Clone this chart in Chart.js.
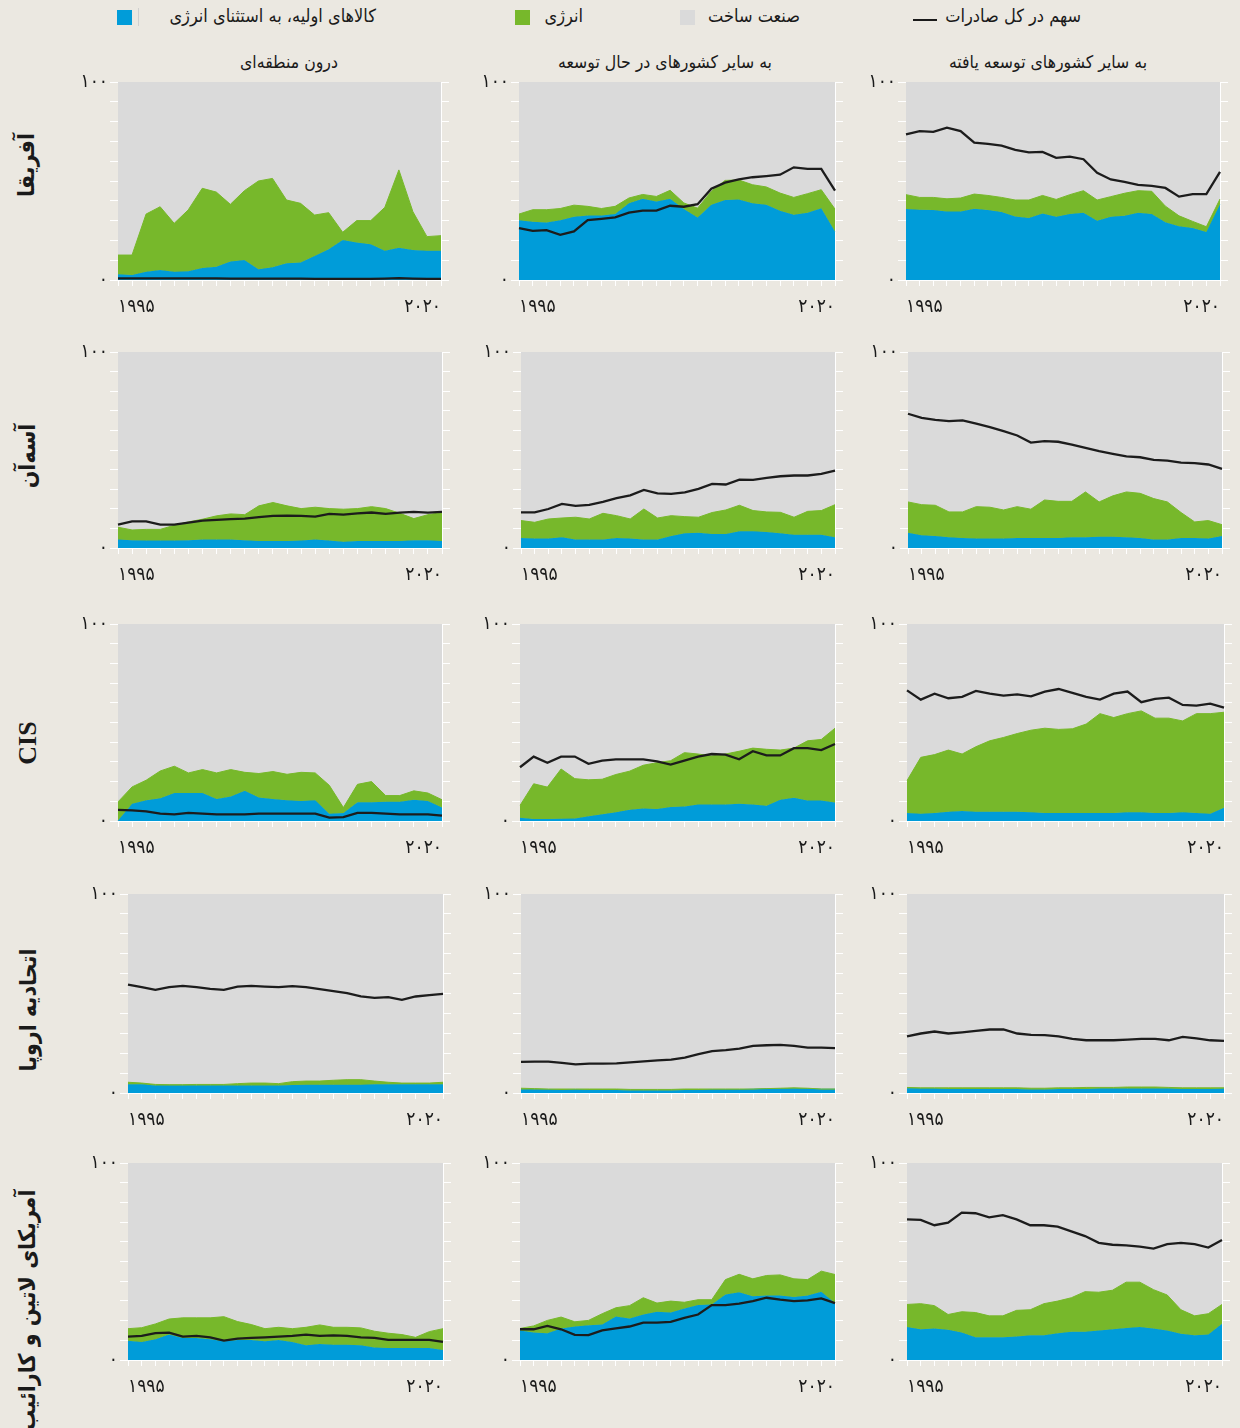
<!DOCTYPE html>
<html lang="fa">
<head>
<meta charset="utf-8">
<title>سهم کالاها در صادرات</title>
<script src="https://cdn.jsdelivr.net/npm/chart.js@4.4.1/dist/chart.umd.min.js"></script>
<style>
  html, body { margin: 0; padding: 0; }
  body {
    width: 1240px; height: 1428px; position: relative; overflow: hidden;
    background: #EBE8E1; color: #1a1a1a;
    font-family: 'DejaVu Sans Condensed', 'DejaVu Sans', sans-serif;
  }
  .legend-text { position: absolute; top: 5px; font-size: 18px; line-height: 22px; direction: rtl; white-space: nowrap; }
  .swatch { position: absolute; top: 10px; width: 15px; height: 15px; }
  .col-title { position: absolute; top: 50px; font-size: 17.5px; line-height: 24px; direction: rtl; white-space: nowrap; transform: translateX(-50%); }
  .row-label { position: absolute; font-weight: bold; font-size: 23px; line-height: 28px; white-space: nowrap; direction: rtl; transform: translate(-50%, -50%) rotate(-90deg); }
  .row-label.latin { font-family: 'Liberation Serif', serif; font-size: 26px; direction: ltr; }
  canvas.panel { position: absolute; }
</style>
</head>
<body>

<div class="swatch" style="left:117px; background:#009CD9;"></div>
<div style="position:absolute; left:138px; top:8px; width:1px; height:18px; background:#cfcfcf;"></div>
<div class="legend-text" style="right:864px;">کالاهای اولیه، به استثنای انرژی</div>
<div class="swatch" style="left:515px; background:#77B82B;"></div>
<div class="legend-text" style="right:657px;">انرژی</div>
<div class="swatch" style="left:680px; background:#DADADA;"></div>
<div class="legend-text" style="right:440px;">صنعت ساخت</div>
<div style="position:absolute; left:913px; top:19px; width:24px; height:2px; background:#1a1a1a;"></div>
<div class="legend-text" style="right:159px;">سهم در کل صادرات</div>

<div class="col-title" style="left:289px;">درون منطقه‌ای</div>
<div class="col-title" style="left:665px;">به سایر کشورهای در حال توسعه</div>
<div class="col-title" style="left:1048px;">به سایر کشورهای توسعه یافته</div>

<div class="row-label" style="left:26px; top:165px;">آفریقا</div>
<div class="row-label" style="left:27px; top:456px;">آسه‌آن</div>
<div class="row-label latin" style="left:28px; top:743px;">CIS</div>
<div class="row-label" style="left:28px; top:1010px;">اتحادیه اروپا</div>
<div class="row-label" style="left:27px; top:1310px;">آمریکای لاتین و کارائیب</div>

<script>
// x tick labels (24 points per panel, only the ends are labelled)
const xTicks = ['۱۹۹۵', '', '', '', '', '', '', '', '', '', '', '', '', '', '', '', '', '', '', '', '', '', '', '۲۰۲۰'];
const yTicks = { 0: '۰', 100: '۱۰۰' };

// Africa
const afrIntraPrimary = [2.9, 2.5, 4.2, 5.1, 4.2, 4.4, 6.1, 6.7, 9.3, 10.1, 5.4, 6.4, 8.4, 8.8, 12.1, 15.5, 20.2, 18.9, 18.0, 14.8, 16.3, 15.2, 14.8, 14.8];
const afrIntraEnergyTop = [12.6, 12.6, 33.3, 37.0, 28.6, 35.4, 46.3, 44.4, 38.2, 45.1, 50.0, 51.3, 40.4, 38.7, 32.8, 34.0, 24.1, 30.0, 30.0, 36.7, 55.6, 34.5, 21.9, 22.4];
const afrIntraShare = [0.8, 0.8, 0.8, 0.8, 0.8, 0.8, 0.8, 0.8, 0.7, 0.7, 0.7, 0.7, 0.7, 0.7, 0.6, 0.6, 0.6, 0.6, 0.6, 0.7, 0.9, 0.7, 0.6, 0.6];

const afrDevPrimary = [30.2, 29.4, 29.1, 30.2, 31.9, 32.6, 32.6, 33.3, 38.7, 41.0, 39.7, 41.0, 35.8, 31.6, 38.0, 40.4, 40.7, 38.7, 38.0, 35.0, 32.9, 34.0, 36.3, 24.5];
const afrDevEnergyTop = [33.3, 35.5, 35.5, 36.1, 37.8, 37.2, 36.1, 37.2, 41.4, 43.2, 42.2, 45.3, 38.9, 36.3, 44.8, 50.3, 50.5, 48.1, 47.0, 43.9, 41.7, 43.6, 45.6, 35.8];
const afrDevShare = [26.2, 24.8, 25.2, 22.8, 24.5, 30.2, 30.9, 31.6, 34.0, 35.0, 35.0, 37.5, 37.0, 38.3, 46.1, 49.2, 50.8, 51.9, 52.5, 53.2, 56.9, 56.1, 56.1, 45.1];

const afrDvdPrimary = [35.8, 35.5, 35.3, 34.6, 34.6, 36.0, 35.3, 34.3, 32.1, 31.3, 33.6, 31.9, 33.3, 34.0, 29.9, 31.9, 32.4, 34.0, 33.3, 29.2, 27.2, 26.2, 24.2, 38.3];
const afrDvdEnergyTop = [43.1, 41.7, 41.7, 41.0, 41.4, 43.4, 42.7, 41.7, 40.4, 40.4, 42.7, 40.7, 43.1, 45.1, 40.4, 42.1, 43.8, 45.1, 44.8, 37.3, 32.4, 29.6, 26.9, 40.9];
const afrDvdShare = [73.5, 75.2, 74.8, 76.9, 75.2, 69.4, 68.8, 67.9, 65.7, 64.5, 64.7, 61.7, 62.3, 61.0, 54.1, 50.8, 49.5, 48.0, 47.5, 46.5, 42.1, 43.4, 43.4, 54.6];

// ASEAN
const aseIntraPrimary = [4.4, 4.0, 3.8, 3.8, 3.8, 4.0, 4.3, 4.3, 4.3, 4.0, 3.6, 3.6, 3.6, 3.8, 4.4, 3.8, 3.2, 3.6, 3.6, 3.6, 3.6, 4.0, 4.0, 3.6];
const aseIntraEnergyTop = [10.6, 9.2, 9.5, 9.5, 11.6, 13.3, 14.7, 16.4, 17.4, 17.0, 21.5, 23.2, 21.5, 20.1, 20.8, 20.1, 19.8, 20.1, 21.1, 20.1, 17.7, 15.0, 17.0, 18.1];
const aseIntraShare = [11.9, 13.6, 13.6, 11.9, 11.9, 13.0, 14.0, 14.3, 14.7, 15.0, 15.7, 16.4, 16.5, 16.4, 16.0, 17.4, 17.0, 17.7, 18.1, 17.4, 18.1, 18.4, 18.1, 18.4];

const aseDevPrimary = [5.1, 4.8, 4.8, 5.5, 4.4, 4.4, 4.4, 5.1, 4.8, 4.4, 4.4, 6.1, 7.5, 7.8, 7.2, 7.2, 8.5, 8.5, 8.2, 7.5, 6.8, 6.8, 6.8, 5.5];
const aseDevEnergyTop = [14.0, 13.1, 14.8, 15.3, 15.7, 14.8, 17.7, 16.5, 14.8, 19.9, 15.3, 16.5, 16.0, 15.7, 18.1, 19.4, 21.8, 19.1, 18.4, 18.2, 15.7, 18.7, 19.1, 22.1];
const aseDevShare = [18.2, 18.2, 19.9, 22.5, 21.5, 22.0, 23.5, 25.4, 26.9, 29.6, 27.9, 27.6, 28.4, 30.2, 32.7, 32.4, 34.9, 34.8, 35.8, 36.6, 37.0, 37.0, 37.8, 39.5];

const aseDvdPrimary = [7.8, 6.5, 6.1, 5.5, 5.1, 4.8, 4.8, 4.8, 5.1, 5.1, 5.1, 5.1, 5.5, 5.5, 5.8, 5.8, 5.5, 5.1, 4.4, 4.4, 5.1, 5.1, 4.8, 6.1];
const aseDvdEnergyTop = [23.5, 22.1, 21.8, 18.4, 18.4, 21.1, 20.8, 19.4, 21.1, 19.8, 24.5, 23.8, 23.8, 28.6, 23.5, 26.6, 28.6, 27.9, 25.2, 23.5, 18.1, 13.3, 14.0, 11.9];
const aseDvdShare = [68.5, 66.4, 65.4, 64.7, 65.1, 63.4, 61.7, 59.6, 57.4, 53.8, 54.5, 54.2, 52.8, 51.1, 49.4, 48.0, 46.7, 46.3, 45.0, 44.6, 43.6, 43.3, 42.6, 40.4];

// CIS
const cisIntraPrimary = [0.3, 8.8, 10.5, 11.5, 14.2, 14.2, 14.2, 11.2, 12.5, 15.3, 11.9, 11.2, 10.5, 10.2, 10.5, 3.7, 4.1, 9.5, 9.5, 9.8, 9.8, 10.8, 10.2, 6.8];
const cisIntraEnergyTop = [9.7, 17.3, 20.7, 25.4, 27.8, 24.4, 26.1, 24.4, 26.1, 24.7, 24.1, 25.1, 23.7, 24.7, 24.4, 18.1, 6.8, 18.6, 20.0, 12.9, 12.9, 15.3, 14.2, 10.8];
const cisIntraShare = [5.6, 5.4, 4.9, 3.7, 3.4, 4.1, 3.7, 3.4, 3.4, 3.4, 3.7, 3.7, 3.7, 3.7, 3.7, 1.7, 2.0, 4.1, 4.1, 3.7, 3.4, 3.4, 3.4, 2.7];

const cisDevPrimary = [1.7, 1.0, 1.0, 1.2, 1.3, 2.4, 3.4, 4.4, 5.7, 6.4, 6.1, 7.1, 7.4, 8.4, 8.4, 8.4, 8.8, 8.4, 7.7, 10.8, 11.8, 10.4, 10.4, 9.4];
const cisDevEnergyTop = [7.9, 18.9, 17.2, 26.4, 21.5, 20.9, 21.2, 23.6, 25.3, 28.3, 29.6, 30.6, 34.7, 34.0, 33.0, 34.0, 35.4, 37.0, 36.4, 36.0, 37.0, 40.7, 41.4, 47.1];
const cisDevShare = [27.3, 32.7, 29.6, 32.7, 32.7, 29.0, 30.6, 31.3, 31.3, 31.3, 30.3, 28.6, 30.6, 32.7, 34.0, 33.7, 31.3, 35.4, 33.3, 33.3, 37.0, 37.0, 36.0, 39.1];

const cisDvdPrimary = [4.0, 3.7, 4.0, 4.7, 5.1, 4.7, 4.7, 4.7, 4.7, 4.4, 4.0, 4.0, 4.0, 4.0, 4.0, 4.0, 4.4, 4.4, 4.0, 4.0, 4.4, 4.0, 3.7, 6.7];
const cisDvdEnergyTop = [20.5, 32.3, 33.7, 36.0, 34.0, 37.7, 40.7, 42.4, 44.4, 46.1, 47.1, 46.5, 46.8, 49.2, 54.5, 52.5, 54.5, 55.9, 52.2, 52.2, 50.8, 54.5, 54.5, 55.2];
const cisDvdShare = [66.3, 61.6, 64.6, 62.3, 63.0, 66.0, 64.6, 63.6, 64.3, 63.3, 65.7, 67.0, 65.0, 63.0, 61.6, 64.6, 65.7, 60.3, 62.0, 62.6, 58.9, 58.6, 59.6, 57.6];

// European Union
const euIntraPrimary = [4.4, 4.4, 3.8, 3.8, 3.8, 3.8, 3.8, 3.8, 3.8, 3.8, 3.8, 3.8, 4.0, 4.2, 4.2, 4.2, 4.2, 4.2, 4.4, 4.4, 4.4, 4.4, 4.4, 4.4];
const euIntraEnergyTop = [5.4, 5.0, 4.3, 4.2, 4.2, 4.3, 4.3, 4.3, 4.7, 5.0, 5.0, 4.7, 5.7, 6.0, 6.0, 6.4, 6.7, 6.7, 6.0, 5.4, 5.0, 5.0, 5.0, 5.4];
const euIntraShare = [54.5, 53.2, 51.8, 53.2, 53.8, 53.2, 52.3, 51.8, 53.5, 53.8, 53.5, 53.2, 53.7, 53.2, 52.2, 51.2, 50.2, 48.5, 47.8, 48.2, 46.8, 48.5, 49.2, 49.8];

const euDevPrimary = [1.8, 1.7, 1.7, 1.5, 1.7, 1.5, 1.5, 1.5, 1.3, 1.3, 1.3, 1.3, 1.5, 1.5, 1.7, 1.7, 1.7, 1.9, 2.1, 2.1, 2.3, 2.1, 1.9, 1.9];
const euDevEnergyTop = [2.4, 2.2, 2.0, 2.0, 2.0, 2.0, 2.0, 2.0, 1.8, 1.8, 1.8, 1.8, 2.0, 2.0, 2.0, 2.0, 2.0, 2.0, 2.2, 2.4, 2.6, 2.4, 2.0, 2.0];
const euDevShare = [15.6, 15.8, 15.8, 15.1, 14.4, 14.8, 14.8, 14.9, 15.4, 15.9, 16.4, 16.8, 17.8, 19.5, 21.0, 21.5, 22.3, 23.7, 24.0, 24.2, 23.7, 22.8, 22.8, 22.5];

const euDvdPrimary = [2.4, 2.2, 2.2, 2.0, 2.0, 2.0, 2.0, 2.0, 2.0, 1.8, 1.8, 2.0, 2.0, 2.0, 2.2, 2.2, 2.2, 2.2, 2.2, 2.2, 2.0, 2.0, 2.0, 2.2];
const euDvdEnergyTop = [2.8, 2.6, 2.6, 2.6, 2.6, 2.6, 2.6, 2.6, 2.6, 2.4, 2.4, 2.6, 2.6, 2.8, 2.8, 2.8, 3.0, 3.0, 3.0, 2.8, 2.6, 2.6, 2.6, 2.6];
const euDvdShare = [28.5, 29.9, 30.9, 29.9, 30.5, 31.2, 31.9, 31.9, 29.9, 29.2, 29.1, 28.5, 27.2, 26.5, 26.5, 26.5, 26.8, 27.2, 27.2, 26.5, 28.2, 27.5, 26.5, 26.2];

// Latin America and the Caribbean
const lacIntraPrimary = [9.8, 9.2, 10.5, 12.9, 11.2, 11.2, 10.5, 9.5, 10.2, 10.2, 9.5, 10.2, 9.2, 7.5, 8.1, 7.8, 7.8, 7.5, 6.4, 6.1, 6.1, 6.1, 6.1, 5.1];
const lacIntraEnergyTop = [15.9, 16.4, 18.3, 20.8, 21.4, 21.4, 21.4, 22.0, 19.5, 18.0, 15.9, 16.6, 15.9, 16.6, 17.8, 16.6, 16.6, 16.3, 14.6, 13.6, 12.9, 11.5, 14.4, 15.9];
const lacIntraShare = [11.9, 12.2, 13.6, 13.9, 11.9, 12.2, 11.5, 9.8, 10.8, 11.2, 11.5, 11.9, 12.2, 12.9, 12.2, 12.5, 12.2, 11.5, 11.2, 10.2, 10.2, 10.2, 10.2, 9.2];

const lacDevPrimary = [15.0, 13.9, 13.6, 16.0, 17.0, 17.7, 18.0, 22.1, 21.1, 23.1, 24.5, 24.1, 26.2, 27.9, 28.2, 33.3, 34.4, 32.3, 32.7, 32.7, 32.0, 32.7, 34.7, 28.9];
const lacDevEnergyTop = [16.0, 17.3, 20.1, 21.8, 19.4, 20.1, 23.5, 26.5, 27.6, 31.6, 28.9, 29.9, 29.3, 30.6, 30.6, 40.8, 43.5, 41.2, 42.9, 43.2, 41.2, 40.8, 45.1, 43.4];
const lacDevShare = [15.6, 15.6, 17.3, 15.6, 12.8, 12.6, 15.0, 16.0, 17.0, 19.0, 19.0, 19.4, 21.4, 23.1, 27.9, 27.9, 28.6, 29.9, 31.6, 30.6, 29.9, 30.3, 31.3, 28.9];

const lacDvdPrimary = [16.7, 15.6, 16.0, 15.3, 13.9, 11.6, 11.6, 11.6, 11.9, 12.6, 12.6, 13.6, 14.3, 14.3, 15.0, 15.6, 16.3, 16.7, 16.0, 15.0, 13.3, 12.6, 12.9, 18.4];
const lacDvdEnergyTop = [28.2, 28.6, 27.6, 23.1, 24.5, 24.1, 22.4, 22.4, 25.2, 25.5, 28.6, 29.9, 31.6, 34.7, 34.4, 35.4, 39.5, 39.5, 35.7, 33.0, 25.5, 22.4, 23.5, 28.2];
const lacDvdShare = [71.4, 71.1, 68.4, 69.7, 74.8, 74.5, 72.4, 73.5, 71.4, 68.4, 68.4, 67.7, 65.3, 62.9, 59.5, 58.5, 58.2, 57.5, 56.5, 58.8, 59.5, 58.8, 57.1, 60.9];

const BLUE = '#009CD9';
const GREEN = '#77B82B';
const GREY = '#DADADA';
const LINE = '#1c1c1c';
const TICK_FONT = { family: "'DejaVu Sans Condensed', 'DejaVu Sans', sans-serif", size: 19 };

// plot area of each panel on the page: [left, top, right, bottom]
const panels = [
  { box: [118, 82, 441, 280], primary: afrIntraPrimary, energyTop: afrIntraEnergyTop, share: afrIntraShare },
  { box: [519, 82, 835, 280], primary: afrDevPrimary, energyTop: afrDevEnergyTop, share: afrDevShare },
  { box: [906, 82, 1220, 280], primary: afrDvdPrimary, energyTop: afrDvdEnergyTop, share: afrDvdShare },
  { box: [118, 352, 442, 548], primary: aseIntraPrimary, energyTop: aseIntraEnergyTop, share: aseIntraShare },
  { box: [521, 352, 835, 548], primary: aseDevPrimary, energyTop: aseDevEnergyTop, share: aseDevShare },
  { box: [908, 352, 1222, 548], primary: aseDvdPrimary, energyTop: aseDvdEnergyTop, share: aseDvdShare },
  { box: [118, 624, 442, 821], primary: cisIntraPrimary, energyTop: cisIntraEnergyTop, share: cisIntraShare },
  { box: [520, 624, 835, 821], primary: cisDevPrimary, energyTop: cisDevEnergyTop, share: cisDevShare },
  { box: [907, 624, 1224, 821], primary: cisDvdPrimary, energyTop: cisDvdEnergyTop, share: cisDvdShare },
  { box: [128, 894, 443, 1093], primary: euIntraPrimary, energyTop: euIntraEnergyTop, share: euIntraShare },
  { box: [521, 894, 835, 1093], primary: euDevPrimary, energyTop: euDevEnergyTop, share: euDevShare },
  { box: [907, 894, 1224, 1093], primary: euDvdPrimary, energyTop: euDvdEnergyTop, share: euDvdShare },
  { box: [128, 1163, 443, 1360], primary: lacIntraPrimary, energyTop: lacIntraEnergyTop, share: lacIntraShare },
  { box: [520, 1163, 835, 1360], primary: lacDevPrimary, energyTop: lacDevEnergyTop, share: lacDevShare },
  { box: [907, 1163, 1222, 1360], primary: lacDvdPrimary, energyTop: lacDvdEnergyTop, share: lacDvdShare },
];

// grey "manufactures" block behind the stacked areas
const plotBackground = {
  id: 'plotBackground',
  beforeDraw(chart) {
    const { ctx, chartArea: a } = chart;
    ctx.save();
    ctx.fillStyle = GREY;
    ctx.fillRect(a.left, a.top, a.right - a.left, a.bottom - a.top);
    ctx.restore();
  },
};

const PAD_TOP = 16;
const AXIS_LEFT = 50;
const AXIS_RIGHT = 16;
const AXIS_BOTTOM = 50;

function makePanel(panel) {
  const [left, top, right, bottom] = panel.box;
  const width = right - left + AXIS_LEFT + AXIS_RIGHT;
  const height = bottom - top + PAD_TOP + AXIS_BOTTOM;

  const canvas = document.createElement('canvas');
  canvas.className = 'panel';
  canvas.width = width;
  canvas.height = height;
  canvas.style.left = (left - AXIS_LEFT) + 'px';
  canvas.style.top = (top - PAD_TOP) + 'px';
  canvas.style.width = width + 'px';
  canvas.style.height = height + 'px';
  document.body.appendChild(canvas);

  return new Chart(canvas, {
    type: 'line',
    data: {
      labels: xTicks,
      datasets: [
        {
          label: 'سهم در کل صادرات',
          data: panel.share,
          borderColor: LINE,
          borderWidth: 2.3,
          pointRadius: 0,
          fill: false,
        },
        {
          label: 'انرژی',
          data: panel.energyTop,
          borderColor: GREEN,
          backgroundColor: GREEN,
          borderWidth: 1,
          pointRadius: 0,
          fill: '+1',
        },
        {
          label: 'کالاهای اولیه، به استثنای انرژی',
          data: panel.primary,
          borderColor: BLUE,
          backgroundColor: BLUE,
          borderWidth: 1,
          pointRadius: 0,
          fill: 'origin',
        },
      ],
    },
    options: {
      responsive: false,
      animation: false,
      events: [],
      layout: { padding: { top: PAD_TOP, left: 0, right: 0, bottom: 0 } },
      plugins: {
        legend: { display: false },
        tooltip: { enabled: false },
      },
      scales: {
        x: {
          grid: { drawOnChartArea: false, color: '#ffffff', tickLength: 6 },
          border: { color: '#ffffff' },
          ticks: { autoSkip: false, maxRotation: 0, align: 'inner', padding: 10, color: '#1a1a1a', font: TICK_FONT },
          afterFit: (scale) => { scale.height = AXIS_BOTTOM; },
        },
        y: {
          min: 0,
          max: 100,
          grid: { drawOnChartArea: false, color: '#ffffff', tickLength: 8 },
          border: { display: false },
          ticks: {
            stepSize: 10,
            autoSkip: false,
            padding: 2,
            color: '#1a1a1a',
            font: TICK_FONT,
            callback: (value) => yTicks[value] || '',
          },
          afterFit: (scale) => { scale.width = AXIS_LEFT; },
        },
        yRight: {
          position: 'right',
          min: 0,
          max: 100,
          grid: { drawOnChartArea: false, color: '#ffffff', tickLength: 8 },
          border: { color: '#ffffff' },
          ticks: { stepSize: 10, display: false },
          afterFit: (scale) => { scale.width = AXIS_RIGHT; },
        },
      },
    },
    plugins: [plotBackground],
  });
}

panels.forEach(makePanel);
</script>
</body>
</html>
